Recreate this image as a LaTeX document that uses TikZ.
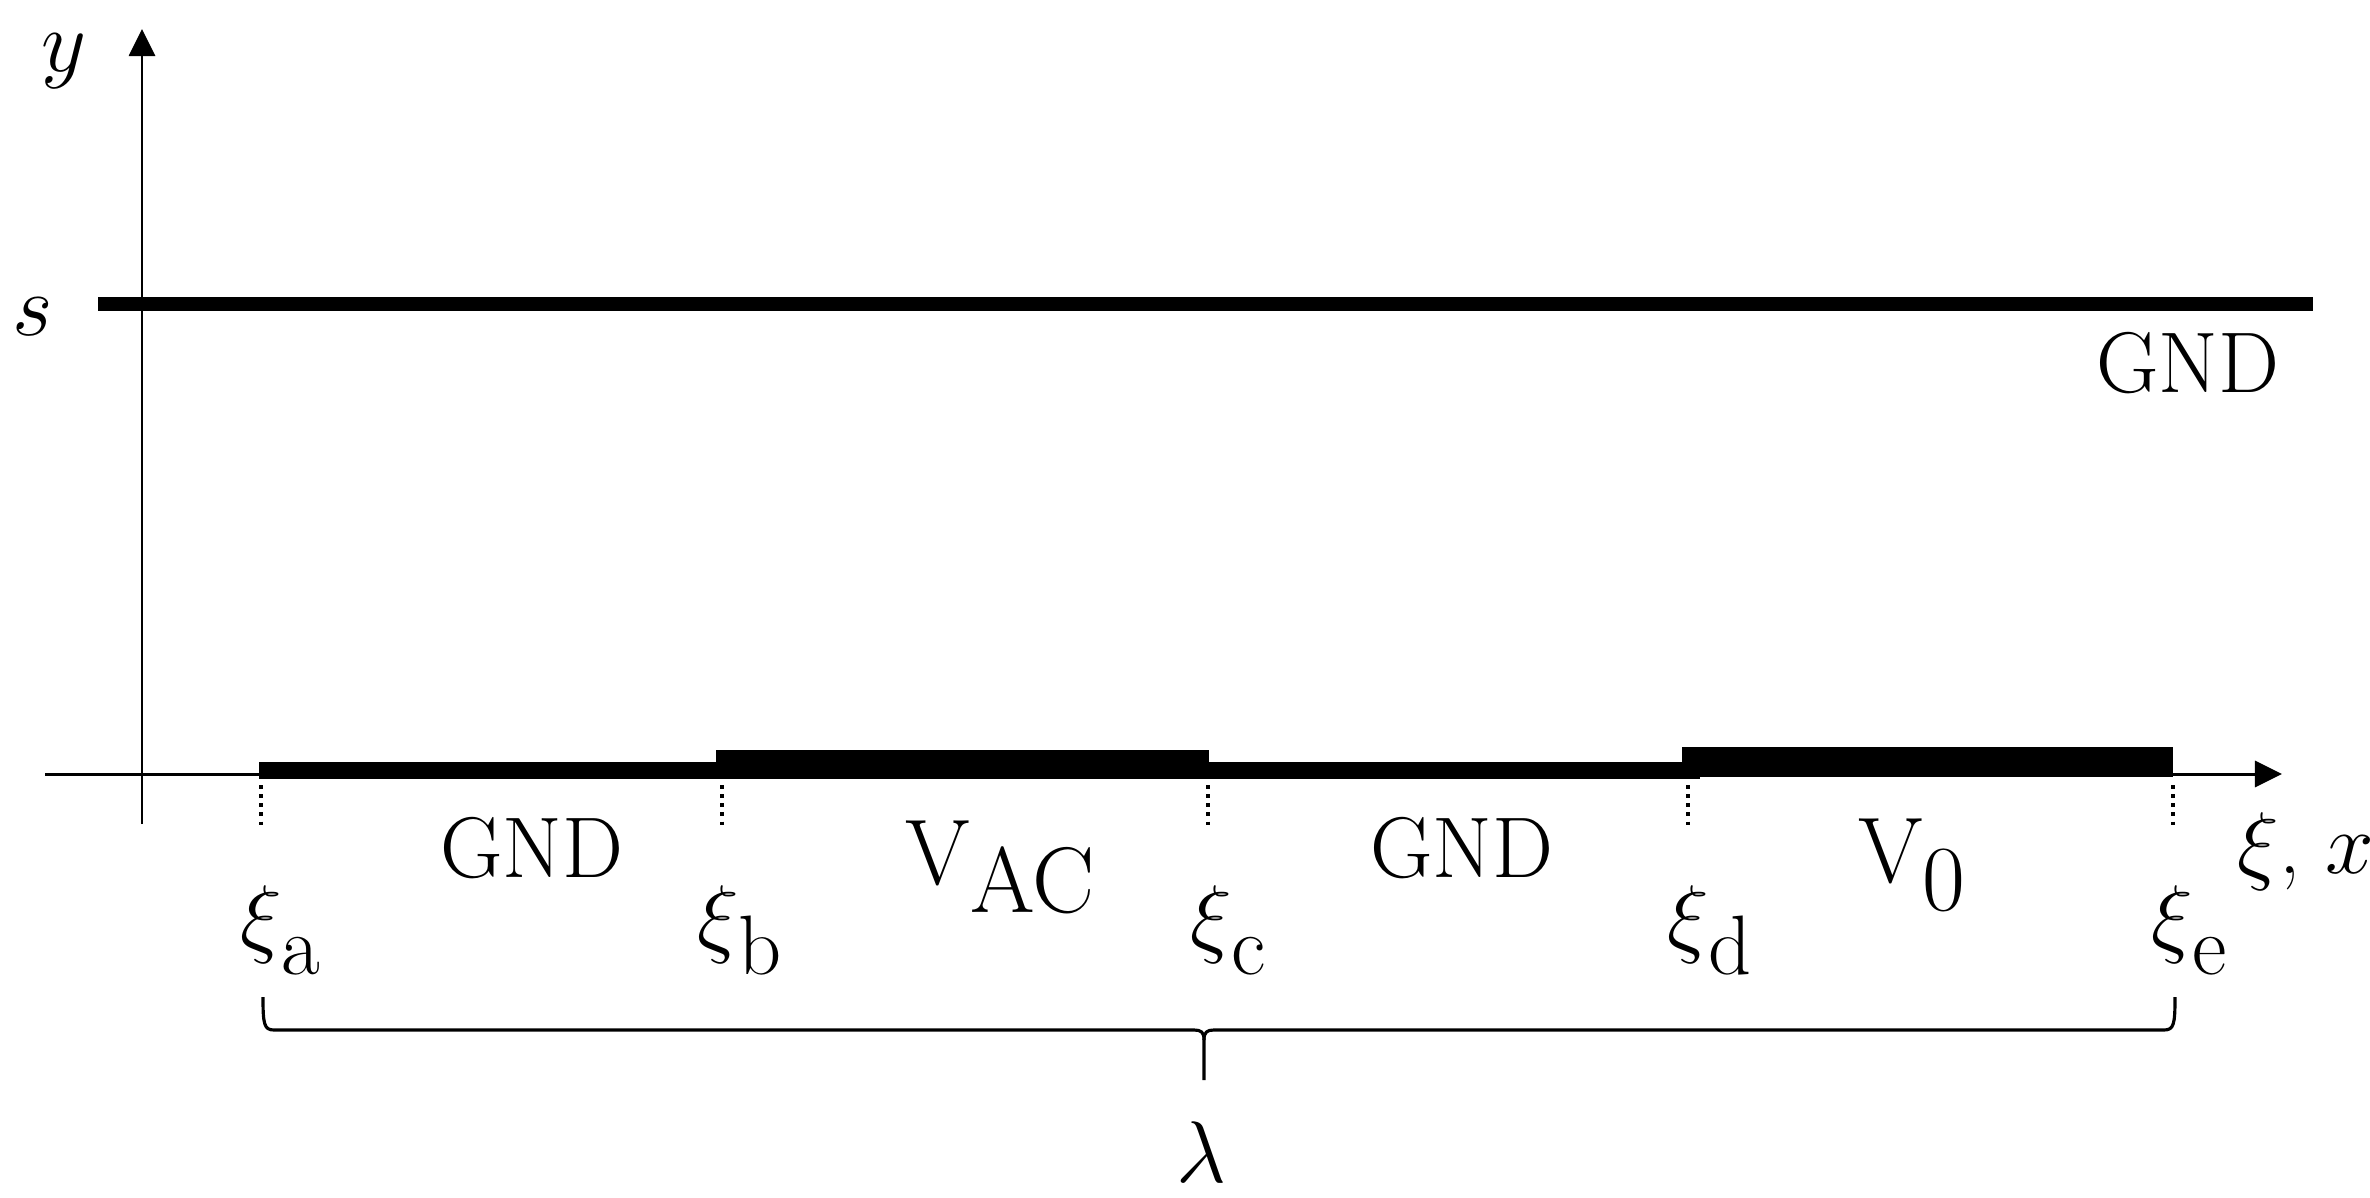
\documentclass[tikz,border=0pt]{standalone}
\usepackage{fontspec}
\usetikzlibrary{arrows.meta}
\tikzset{
  axis/.style={line width=0.85pt,-{Triangle[length=7.7pt,width=7.4pt]}},
  bar/.style={fill=black,draw=none},
  plate/.style={line width=3.7pt},
  guide/.style={line width=1.1pt,dash pattern=on 1pt off 1.6pt},
  bracestyle/.style={line width=0.9pt,line join=round},
  lbl/.style={inner sep=0pt,anchor=base,font=\fontsize{24.5}{29}\selectfont},
  vlbl/.style={inner sep=0pt,anchor=base,font=\fontsize{26.5}{31}\selectfont},
  xilbl/.style={inner sep=0pt,anchor=base,font=\fontsize{24}{29}\selectfont},
  axlbl/.style={inner sep=0pt,anchor=base,font=\fontsize{34}{39}\selectfont}
}
\begin{document}
\begin{tikzpicture}[x=0.01cm,y=-0.01cm]
\useasboundingbox (0,0) rectangle (2370,1197);
% axes
\coordinate (xs) at (45,774);
\coordinate (xe) at (2282,774);
\coordinate (ys) at (142,824);
\coordinate (ye) at (142,29);
\draw[axis] (xs) -- (xe);
\draw[axis] (ys) -- (ye);
% top plate
\coordinate (ps) at (98,304);
\coordinate (pe) at (2313,304);
\draw[plate] (ps) -- (pe);
% electrodes
\fill[bar] (259,762) rectangle (716,779);
\fill[bar] (716,750) rectangle (1209,779);
\fill[bar] (1209,762) rectangle (1700,779);
\fill[bar] (1682,747) rectangle (2173,777);
% guide lines
\foreach \n/\gx in {a/261,b/722,c/1208,d/1688,e/2173}{
  \coordinate (g\n1) at (\gx,785);
  \coordinate (g\n2) at (\gx,830);
  \draw[guide] (g\n1) -- (g\n2);
}
% labels
\node[axlbl] (ylab) at (64,72) {$y$};
\node[axlbl] (slab) at (33,335) {$s$};
\node[lbl] (gndtop) at (2188,392) {GND};
\node[lbl] (gnd1) at (532,877) {GND};
\node[lbl] (gnd2) at (1462,877) {GND};
\node[vlbl] (vac) at (1000,884) {V\raisebox{-8pt}{AC}};
\node[vlbl] (vz) at (1912,882) {V\raisebox{-8pt}{0}};
\node[xilbl,anchor=base west] (xix) at (2237,873) {$\xi$, $x$};
\node[xilbl] (xia) at (261,946) {$\xi$\rlap{\raisebox{-8.2pt}{a}}};
\node[xilbl] (xib) at (718,946) {$\xi$\rlap{\raisebox{-8.2pt}{b}}};
\node[xilbl] (xic) at (1211,946) {$\xi$\rlap{\raisebox{-8.2pt}{c}}};
\node[xilbl] (xid) at (1688,946) {$\xi$\rlap{\raisebox{-8.2pt}{d}}};
\node[xilbl] (xie) at (2172,946) {$\xi$\rlap{\raisebox{-8.2pt}{e}}};
% brace
\coordinate (bl) at (263,997);
\coordinate (br) at (2175,997);
\coordinate (bm) at (1204,1040);
\coordinate (bt) at (1204,1080);
\draw[bracestyle] (bl) .. controls (263,1024) and (264,1030) .. (274,1030) -- (1194,1030) .. controls (1201,1030) and (1204,1032) .. (bm) -- (bt);
\draw[bracestyle] (br) .. controls (2175,1024) and (2174,1030) .. (2164,1030) -- (1214,1030) .. controls (1207,1030) and (1204,1032) .. (bm);
\node[xilbl] (lam) at (1201,1182) {$\lambda$};
\end{tikzpicture}
\end{document}
